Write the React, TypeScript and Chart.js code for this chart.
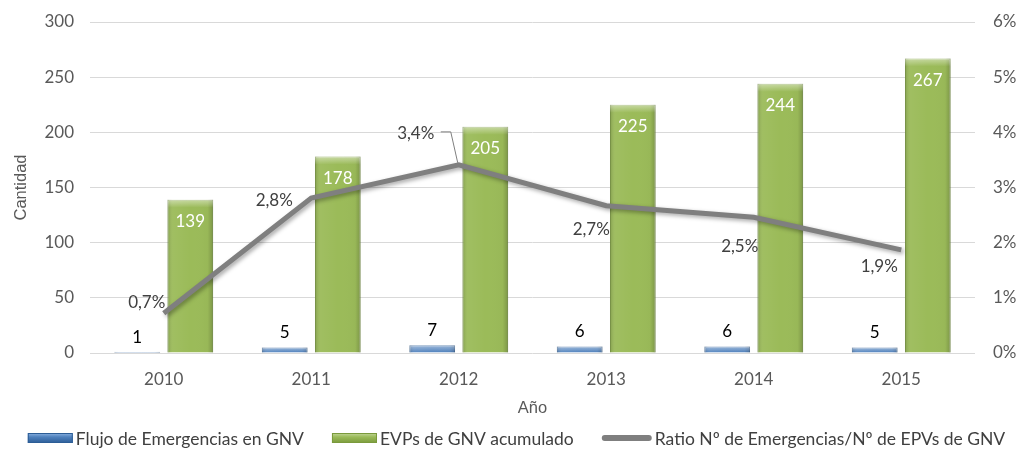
import React, { useEffect, useRef } from "react";
import { Chart, registerables } from "chart.js";

Chart.register(...registerables);

const years = ["2010", "2011", "2012", "2013", "2014", "2015"];
const emergencias = [1, 5, 7, 6, 6, 5];
const evps = [139, 178, 205, 225, 244, 267];
const ratio = [0.72, 2.81, 3.41, 2.67, 2.46, 1.87];
const ratioLabels = ["0,7%", "2,8%", "3,4%", "2,7%", "2,5%", "1,9%"];
const seriesNames = [
  "Flujo de Emergencias en GNV",
  "EVPs de GNV acumulado",
  "Ratio Nº de Emergencias/Nº de EPVs de GNV",
];

// label offsets (style only) relative to the line points
const ratioLabelOffsets = [
  [-17, -11],
  [-37, 3],
  [-43, -31],
  [-15, 24],
  [-14, 29],
  [-22, 17],
];

const FONT = "Lato";
const TEXT = "#595959";
const BLUE = "#4f81bd";
const GREEN = "#9bbb59";
const GRAY = "#7f7f7f";

const barStylePlugin = {
  id: "barStyle",
  afterDatasetDraw(chart: any, args: any) {
    if (args.index > 1) return;
    const ctx = chart.ctx;
    const meta = chart.getDatasetMeta(args.index);
    ctx.save();
    meta.data.forEach((el: any) => {
      const x0 = el.x - el.width / 2;
      const x1 = el.x + el.width / 2;
      const top = el.y;
      const bottom = el.base;
      const h = bottom - top;
      if (h <= 0) return;
      const g = ctx.createLinearGradient(x0, 0, x1, 0);
      g.addColorStop(0, "rgba(0,0,0,0.16)");
      g.addColorStop(0.12, "rgba(255,255,255,0.05)");
      g.addColorStop(0.5, "rgba(255,255,255,0)");
      g.addColorStop(0.88, "rgba(0,0,0,0.02)");
      g.addColorStop(1, "rgba(0,0,0,0.2)");
      ctx.fillStyle = g;
      ctx.fillRect(x0, top, x1 - x0, h);
      const bh = Math.min(8, h);
      const tg = ctx.createLinearGradient(0, top, 0, top + bh);
      tg.addColorStop(0, "rgba(255,255,255,0.45)");
      tg.addColorStop(1, "rgba(255,255,255,0)");
      ctx.fillStyle = tg;
      ctx.fillRect(x0, top, x1 - x0, bh);
    });
    ctx.restore();
  },
  beforeDatasetDraw(chart: any, args: any) {
    if (args.index !== 2) return;
    const ctx = chart.ctx;
    ctx.save();
    ctx.shadowColor = "rgba(0,0,0,0.35)";
    ctx.shadowBlur = 4;
    ctx.shadowOffsetX = 2;
    ctx.shadowOffsetY = 2;
  },
};

const lineShadowEnd = {
  id: "lineShadowEnd",
  afterDatasetDraw(chart: any, args: any) {
    if (args.index !== 2) return;
    chart.ctx.restore();
  },
};

const labelPlugin = {
  id: "valueLabels",
  afterDatasetsDraw(chart: any) {
    const ctx = chart.ctx;
    ctx.save();
    ctx.font = `17px ${FONT}`;
    ctx.textAlign = "center";
    const m0 = chart.getDatasetMeta(0);
    m0.data.forEach((el: any, i: number) => {
      ctx.fillStyle = "#000000";
      ctx.textBaseline = "bottom";
      ctx.fillText(String(emergencias[i]), el.x, el.y - 6);
    });
    const m1 = chart.getDatasetMeta(1);
    m1.data.forEach((el: any, i: number) => {
      ctx.fillStyle = "#ffffff";
      ctx.textBaseline = "middle";
      ctx.fillText(String(evps[i]), el.x, el.y + 22);
    });
    const m2 = chart.getDatasetMeta(2);
    m2.data.forEach((el: any, i: number) => {
      const [dx, dy] = ratioLabelOffsets[i];
      ctx.fillStyle = "#404040";
      ctx.textBaseline = "middle";
      ctx.fillText(ratioLabels[i], el.x + dx, el.y + dy);
      if (i === 2) {
        ctx.strokeStyle = GRAY;
        ctx.lineWidth = 1;
        ctx.beginPath();
        ctx.moveTo(el.x + dx + 25, el.y + dy - 2);
        ctx.lineTo(el.x + dx + 35, el.y + dy - 2);
        ctx.lineTo(el.x - 1, el.y - 2);
        ctx.stroke();
      }
    });
    ctx.restore();
  },
};

const legendPlugin = {
  id: "customLegend",
  afterDraw(chart: any) {
    const ctx = chart.ctx;
    ctx.save();
    ctx.font = `17.5px ${FONT}`;
    ctx.textBaseline = "middle";
    ctx.textAlign = "left";
    const markW = [45, 45, 50];
    const gapMark = 3;
    const gapItem = 28;
    const widths = seriesNames.map((t, i) => markW[i] + gapMark + ctx.measureText(t).width);
    const total = widths.reduce((a, b) => a + b, 0) + gapItem * (seriesNames.length - 1);
    let x = chart.width / 2 - total / 2;
    const y = 438;
    seriesNames.forEach((t, i) => {
      if (i < 2) {
        const base = i === 0 ? BLUE : GREEN;
        const dark = i === 0 ? "#2c5d96" : "#7a9a3c";
        const light = i === 0 ? "#8db3e2" : "#c3d69b";
        const g = ctx.createLinearGradient(0, y - 5, 0, y + 5);
        g.addColorStop(0, light);
        g.addColorStop(0.4, base);
        g.addColorStop(1, dark);
        ctx.fillStyle = g;
        ctx.fillRect(x, y - 5, 45, 10);
        ctx.strokeStyle = dark;
        ctx.lineWidth = 1;
        ctx.strokeRect(x + 0.5, y - 4.5, 44, 9);
      } else {
        ctx.strokeStyle = GRAY;
        ctx.lineWidth = 6;
        ctx.lineCap = "round";
        ctx.beginPath();
        ctx.moveTo(x + 3, y);
        ctx.lineTo(x + markW[i] - 3, y);
        ctx.stroke();
      }
      ctx.fillStyle = "#404040";
      ctx.fillText(t, x + markW[i] + gapMark, y + 1);
      x += widths[i] + gapItem;
    });
    ctx.restore();
  },
};

export default function App() {
  const ref = useRef<HTMLCanvasElement>(null);

  useEffect(() => {
    if (!ref.current) return;
    const chart = new Chart(ref.current, {
      type: "bar",
      data: {
        labels: years,
        datasets: [
          {
            type: "bar",
            label: seriesNames[0],
            data: emergencias,
            backgroundColor: BLUE,
            borderColor: "#3d6a9f",
            borderWidth: 1,
            yAxisID: "y",
            order: 1,
            categoryPercentage: 0.72,
            barPercentage: 0.86,
          },
          {
            type: "bar",
            label: seriesNames[1],
            data: evps,
            backgroundColor: GREEN,
            borderColor: "#84a34a",
            borderWidth: 1,
            yAxisID: "y",
            order: 1,
            categoryPercentage: 0.72,
            barPercentage: 0.86,
          },
          {
            type: "line",
            label: seriesNames[2],
            data: ratio,
            borderColor: GRAY,
            backgroundColor: GRAY,
            borderWidth: 5,
            pointRadius: 0,
            tension: 0,
            yAxisID: "y1",
            order: 0,
          },
        ],
      },
      options: {
        responsive: false,
        animation: false,
        devicePixelRatio: 1,
        layout: { padding: { top: 22, left: 0, right: 0, bottom: 30 } },
        plugins: {
          tooltip: { enabled: false },
          legend: { display: false },
        },
        scales: {
          x: {
            grid: { display: false, drawTicks: false },
            border: { display: false },
            ticks: { color: TEXT, font: { family: FONT, size: 17 }, padding: 16 },
            title: {
              display: true,
              text: "Año",
              color: TEXT,
              font: { family: "Liberation Sans", size: 16.5 },
              padding: { top: 4, bottom: 4 },
            },
            afterFit(s: any) {
              s.height = 69;
            },
          },
          y: {
            position: "left",
            min: 0,
            max: 300,
            ticks: { stepSize: 50, color: TEXT, font: { family: FONT, size: 17 }, padding: 16 },
            grid: { color: "#d9d9d9", drawTicks: false },
            border: { display: false },
            title: {
              display: true,
              text: "Cantidad",
              color: TEXT,
              font: { family: "Liberation Sans", size: 16.5 },
              padding: { top: 12, bottom: 0 },
            },
            afterFit(s: any) {
              s.width = 90;
              s.paddingTop = 0;
              s.paddingBottom = 0;
            },
          },
          y1: {
            position: "right",
            min: 0,
            max: 6,
            ticks: {
              stepSize: 1,
              color: TEXT,
              font: { family: FONT, size: 17 },
              padding: 18,
              callback: (v: any) => `${v}%`,
            },
            grid: { display: false, drawTicks: false },
            border: { display: false },
            afterFit(s: any) {
              s.width = 58;
              s.paddingTop = 0;
              s.paddingBottom = 0;
            },
          },
        },
      },
      plugins: [barStylePlugin, lineShadowEnd, labelPlugin, legendPlugin],
    } as any);
    return () => chart.destroy();
  }, []);

  return (
    <div style={{ position: "absolute", left: 0, top: 0, width: 1033, height: 452, background: "#fff" }}>
      <canvas ref={ref} width={1033} height={452} style={{ display: "block" }} />
    </div>
  );
}
